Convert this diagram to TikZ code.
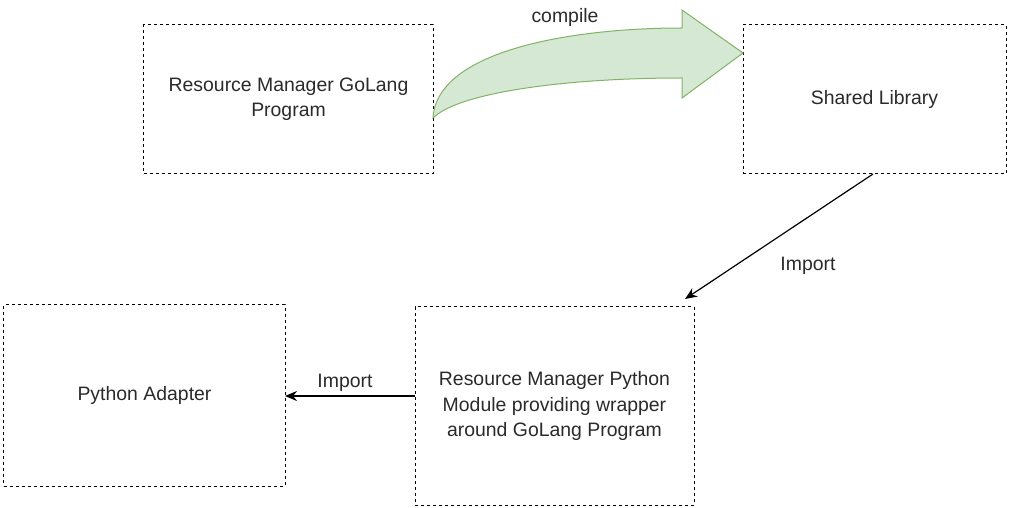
\documentclass[tikz,border=0pt]{standalone}
\usepackage{fontspec}
\setmainfont{Liberation Sans}
\usetikzlibrary{arrows.meta,calc}
\definecolor{txt}{HTML}{2A2A2A}
\definecolor{gfill}{HTML}{D5E8D4}
\definecolor{gline}{HTML}{82B366}
\tikzset{
  box/.style={draw=black, line width=1bp, dash pattern=on 3bp off 3bp, inner sep=0pt, outer sep=0pt,
    align=center, text=txt, font=\fontsize{19.5}{25.5}\selectfont},
  lbl/.style={text=txt, font=\fontsize{19.5}{25.5}\selectfont, inner sep=0pt},
  conn/.style={draw=black, line width=1.2bp, -{Stealth[length=12bp,width=10bp]}}
}
\begin{document}
\begin{tikzpicture}[x=1bp,y=-1bp]
\useasboundingbox (0,0) rectangle (1011,508);
\node[box, minimum width=289bp, minimum height=149bp] (B1) at (288.5,99.5) {Resource Manager GoLang\\Program};
\node[box, minimum width=263bp, minimum height=149bp] (B2) at (874.5,99.5) {Shared Library};
\node[box, minimum width=281bp, minimum height=181bp] (B3) at (144.5,395.5) {Python Adapter};
\node[box, minimum width=279bp, minimum height=198bp] (B4) at (554.5,406) {Resource Manager Python\\Module providing wrapper\\around GoLang Program};
% compile arrow (shape)
\coordinate (T) at ($(B1.east)+(0,18.5)$);
\coordinate (H) at ($(B2.west)+(0,-46.5)$);
\filldraw[fill=gfill, draw=gline, line width=1bp, line join=miter]
  (T) .. controls ($(T)+(4,-68)$) and ($(H)+(-170,-25)$) .. ($(H)+(-61,-25)$)
  -- ($(H)+(-61,-43)$) -- (H) -- ($(H)+(-61,45)$) -- ($(H)+(-61,25)$)
  .. controls ($(H)+(-180,25)$) and ($(T)+(25,-25)$) .. (T) -- cycle;
\node[lbl] (Lc) at (565,17) {compile};
% import connectors
\coordinate (S2) at ($(B2.south)+(-1.5,0)$);
\coordinate (E4) at ($(B4.north east)+(-9,-8)$);
\draw[conn] (S2) -- (E4);
\node[lbl] (L1) at (808,266) {Import};
\coordinate (S4) at (B4.west |- 0,396);
\draw[conn] (S4) -- (S4 -| B3.east);
\node[lbl] (L2) at (345,383) {Import};
\end{tikzpicture}
\end{document}
